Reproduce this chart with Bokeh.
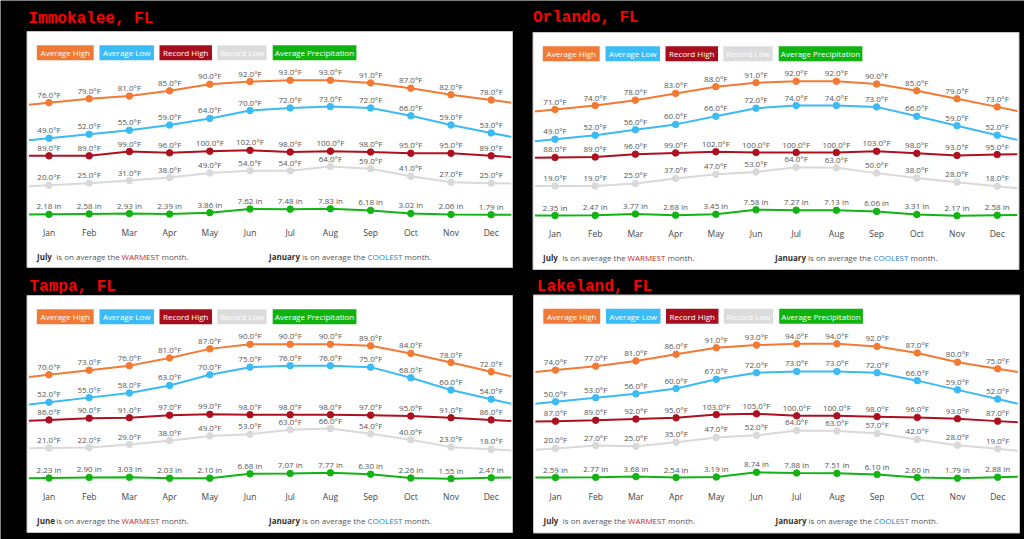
from bokeh.plotting import figure
from bokeh.models import Range1d
from bokeh.core.properties import value
from bokeh.embed import file_html
from bokeh.resources import INLINE

# ---------------- data ----------------
months = ["Jan", "Feb", "Mar", "Apr", "May", "Jun", "Jul", "Aug", "Sep", "Oct", "Nov", "Dec"]
series_names = ["Average High", "Average Low", "Record High", "Record Low", "Average Precipitation"]
cities = ["Immokalee, FL", "Orlando, FL", "Tampa, FL", "Lakeland, FL"]
warmest_months = ["July", "July", "June", "July"]
coolest_months = ["January", "January", "January", "January"]

immokalee_high = [76, 79, 81, 85, 90, 92, 93, 93, 91, 87, 82, 78]
immokalee_low = [49, 52, 55, 59, 64, 70, 72, 73, 72, 66, 59, 53]
immokalee_rec_high = [89, 89, 99, 96, 100, 102, 98, 100, 98, 95, 95, 89]
immokalee_rec_low = [20, 25, 31, 38, 49, 54, 54, 64, 59, 41, 27, 25]
immokalee_precip = [2.18, 2.58, 2.93, 2.39, 3.86, 7.62, 7.48, 7.83, 6.18, 3.02, 2.06, 1.79]

orlando_high = [71, 74, 78, 83, 88, 91, 92, 92, 90, 85, 79, 73]
orlando_low = [49, 52, 56, 60, 66, 72, 74, 74, 73, 66, 59, 52]
orlando_rec_high = [88, 89, 96, 99, 102, 100, 100, 100, 103, 98, 93, 95]
orlando_rec_low = [19, 19, 25, 37, 47, 53, 64, 63, 50, 38, 28, 18]
orlando_precip = [2.35, 2.47, 3.77, 2.68, 3.45, 7.58, 7.27, 7.13, 6.06, 3.31, 2.17, 2.58]

tampa_high = [70, 73, 76, 81, 87, 90, 90, 90, 89, 84, 78, 72]
tampa_low = [52, 55, 58, 63, 70, 75, 76, 76, 75, 68, 60, 54]
tampa_rec_high = [86, 90, 91, 97, 99, 98, 98, 98, 97, 95, 91, 86]
tampa_rec_low = [21, 22, 29, 38, 49, 53, 63, 66, 54, 40, 23, 18]
tampa_precip = [2.23, 2.90, 3.03, 2.03, 2.10, 6.68, 7.07, 7.77, 6.30, 2.26, 1.55, 2.47]

lakeland_high = [74, 77, 81, 86, 91, 93, 94, 94, 92, 87, 80, 75]
lakeland_low = [50, 53, 56, 60, 67, 72, 73, 73, 72, 66, 59, 52]
lakeland_rec_high = [87, 89, 92, 95, 103, 105, 100, 100, 98, 96, 93, 87]
lakeland_rec_low = [20, 27, 25, 35, 47, 52, 64, 63, 57, 42, 28, 19]
lakeland_precip = [2.59, 2.77, 3.68, 2.54, 3.19, 8.74, 7.88, 7.51, 6.10, 2.60, 1.79, 2.88]

city_data = [
    (immokalee_high, immokalee_low, immokalee_rec_high, immokalee_rec_low, immokalee_precip),
    (orlando_high, orlando_low, orlando_rec_high, orlando_rec_low, orlando_precip),
    (tampa_high, tampa_low, tampa_rec_high, tampa_rec_low, tampa_precip),
    (lakeland_high, lakeland_low, lakeland_rec_high, lakeland_rec_low, lakeland_precip),
]

# ---------------- styles / layout ----------------
line_colors = ["#f27a33", "#3bbaf4", "#ad101f", "#d9d9d9", "#12b312"]
button_colors = ["#f07a35", "#3cbcf6", "#a70e1d", "#dcdcdc", "#0eb30e"]
FONT = "Open Sans"
W, H = 1024, 539
PX0, PY0 = 0, 0
DX = 40.2  # pixels per month

# card left, top, right, bottom ; title x, title baseline
panels = [
    dict(L=26.5, T=31.0, R=512.0, B=267.0, tx=28.0, ty=18.5),
    dict(L=532.5, T=32.0, R=1018.5, B=269.0, tx=532.5, ty=17.0),
    dict(L=26.5, T=295.0, R=512.0, B=532.0, tx=29.0, ty=286.0),
    dict(L=533.0, T=294.5, R=1019.0, B=532.5, tx=536.5, ty=286.5),
]
button_offsets = [(9.8, 66.7), (72.5, 127.0), (132.5, 185.0), (190.3, 239.7), (245.7, 329.4)]
# pixel bands (relative to card top) for max and min of each axis group
band_avg = (48.8, 106.7)
band_rec = (118.8, 153.8)
band_pre = (177.3, 183.2)

p = figure(width=W, height=H, output_backend="svg", toolbar_location=None,
           x_range=Range1d(PX0, PX0 + W), y_range=Range1d(PY0 + H, PY0),
           x_axis_location=None, y_axis_location=None, min_border=0)
p.grid.visible = False
p.outline_line_color = None
p.background_fill_color = "black"
p.border_fill_color = "black"


def y_range_for(vmin, vmax, pix_max, pix_min):
    k = (vmax - vmin) / (pix_min - pix_max)
    return Range1d(start=vmin - (PY0 + H - pix_min) * k, end=vmin + (pix_min - PY0) * k)


def extend(vals):
    xs = [-0.5] + list(range(len(vals))) + [len(vals) - 0.5]
    ys = [vals[0] - (vals[1] - vals[0]) / 2] + list(vals) + [vals[-1] + (vals[-1] - vals[-2]) / 2]
    return xs, ys


for k, (pan, data) in enumerate(zip(panels, city_data)):
    L, T, R, B = pan["L"], pan["T"], pan["R"], pan["B"]
    # title
    p.text(x=[pan["tx"]], y=[pan["ty"]], text=[cities[k]], text_font=value("Liberation Mono"),
           text_font_style="bold", text_font_size="16px", text_color="#ff0000",
           text_align="left", text_baseline="alphabetic")
    # card
    p.quad(left=[L], right=[R], top=[T], bottom=[B], fill_color="white",
           line_color="#c4c4c4", line_width=1)
    # legend buttons
    for j, name in enumerate(series_names):
        a, b = button_offsets[j]
        p.quad(left=[L + a], right=[L + b], top=[T + 13.7], bottom=[T + 28.7],
               fill_color=button_colors[j], line_color=None)
        p.text(x=[L + (a + b) / 2], y=[T + 21.4], text=[name], text_font=value(FONT),
               text_font_size="8px", text_color="white", text_align="center",
               text_baseline="middle")

    # ranges
    x0 = L + 22.0
    xname = f"x{k}"
    p.extra_x_ranges[xname] = Range1d(start=(PX0 - x0) / DX, end=(PX0 + W - x0) / DX)
    hi, lo, rhi, rlo, pre = data
    avg_min, avg_max = min(lo + hi), max(lo + hi)
    rec_min, rec_max = min(rlo + rhi), max(rlo + rhi)
    pre_min, pre_max = min(pre), max(pre)
    p.extra_y_ranges[f"avg{k}"] = y_range_for(avg_min, avg_max, T + band_avg[0], T + band_avg[1])
    p.extra_y_ranges[f"rec{k}"] = y_range_for(rec_min, rec_max, T + band_rec[0], T + band_rec[1])
    p.extra_y_ranges[f"pre{k}"] = y_range_for(pre_min, pre_max, T + band_pre[0], T + band_pre[1])
    yr_names = [f"avg{k}", f"avg{k}", f"rec{k}", f"rec{k}", f"pre{k}"]

    xs = list(range(12))
    for j, vals in enumerate(data):
        ex, ey = extend(vals)
        p.line(ex, ey, x_range_name=xname, y_range_name=yr_names[j],
               line_color=line_colors[j], line_width=2)
        p.scatter(xs, vals, x_range_name=xname, y_range_name=yr_names[j],
                  size=6.5, fill_color=line_colors[j], line_color=line_colors[j])
    for j, vals in enumerate(data):
        if j == 4:
            labels = [f"{v:.2f} in" for v in vals]
        else:
            labels = [f"{v:.1f}°F" for v in vals]
        p.text(xs, vals, text=labels, x_range_name=xname, y_range_name=yr_names[j],
               y_offset=-8.5, text_font=value(FONT), text_font_size="8px",
               text_color="#555555", text_align="center", text_baseline="middle")

    # month labels
    p.text(xs, [T + 201] * 12, text=months, x_range_name=xname, text_font=value(FONT),
           text_font_size="8.5px", text_color="#444444", text_align="center",
           text_baseline="middle")

    # footer
    fy = T + 225
    pieces = [
        (10.0, warmest_months[k], "bold", "#333333"),
        (29.3, "is on average the", "normal", "#555555"),
        (94.5, "WARMEST", "normal", "#c0272d"),
        (134.5, "month.", "normal", "#555555"),
        (242.0, coolest_months[k], "bold", "#333333"),
        (275.0, "is on average the", "normal", "#555555"),
        (340.5, "COOLEST", "normal", "#2b7cc6"),
        (377.5, "month.", "normal", "#555555"),
    ]
    for off, txt, style, col in pieces:
        p.text(x=[L + off], y=[fy], text=[txt], text_font=value(FONT), text_font_style=style,
               text_font_size="8px", text_color=col, text_align="left", text_baseline="middle")

open("out.html", "w").write(file_html(p, INLINE))
